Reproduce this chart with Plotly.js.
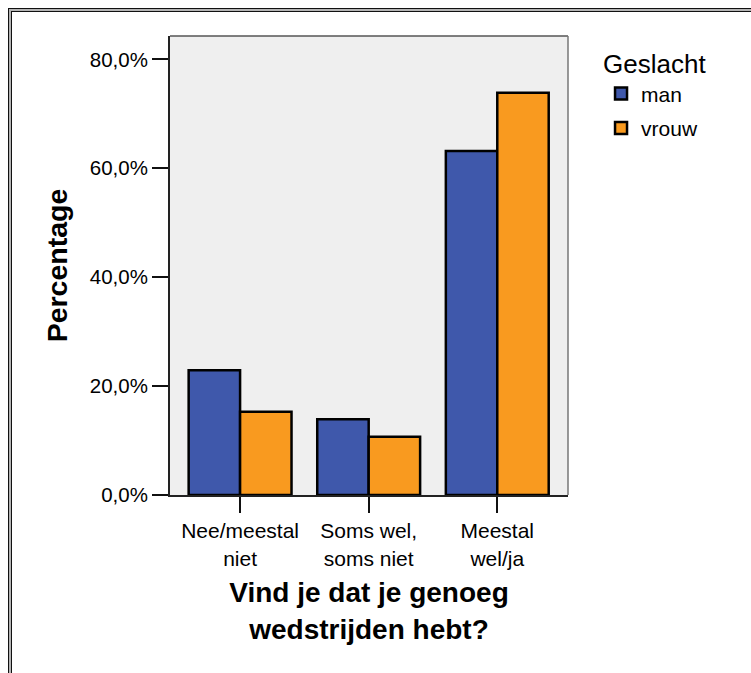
<!DOCTYPE html>
<html>
<head>
<meta charset="utf-8">
<script src="https://cdn.plot.ly/plotly-3.0.1.min.js"></script>
<style>
  html, body { margin: 0; padding: 0; background: #fff; }
  #wrap { position: relative; width: 751px; height: 673px; overflow: hidden; }
  #chart { position: absolute; left: 0; top: 0; width: 751px; height: 673px; }
  #f1 { position: absolute; left: 8px; top: 8px; width: 760px; height: 680px; border-left: 1px solid #111; border-top: 1px solid #111; pointer-events: none; }
  #f2 { position: absolute; left: 9px; top: 9px; width: 760px; height: 680px; border-left: 2px solid #b4b4b4; border-top: 2px solid #b4b4b4; pointer-events: none; }
  #f3 { position: absolute; left: 11px; top: 11px; width: 760px; height: 680px; border-left: 1px solid #111; border-top: 1px solid #111; pointer-events: none; }
</style>
</head>
<body>
<div id="wrap">
  <div id="chart"></div>
  <div id="f1"></div><div id="f2"></div><div id="f3"></div>
</div>
<script>
const categories = ["Nee/meestal<br>niet", "Soms wel,<br>soms niet", "Meestal<br>wel/ja"];
const manValues = [22.9, 13.9, 63.2];
const vrouwValues = [15.3, 10.7, 73.9];
const seriesNames = ["man", "vrouw"];
const yTicks = [0, 20, 40, 60, 80];
const yTickLabels = ["0,0%", "20,0%", "40,0%", "60,0%", "80,0%"];

const colors = ["#3f58ab", "#f99a1f"];

const traces = [manValues, vrouwValues].map((vals, i) => ({
  type: "bar",
  name: seriesNames[i],
  legendgroup: seriesNames[i],
  x: categories,
  y: vals,
  marker: { color: colors[i], line: { color: "#000", width: 2.5 } },
  hoverinfo: "skip"
}));

const layout = {
  width: 751, height: 673,
  margin: { l: 170, r: 183, t: 36, b: 178 },
  paper_bgcolor: "#ffffff",
  plot_bgcolor: "#efefef",
  separators: ",.",
  font: { family: "Liberation Sans, Arial, sans-serif", color: "#000" },
  barmode: "group",
  bargap: 0.2,
  bargroupgap: 0,
  showlegend: true,
  legend: {
    x: 1.083, xanchor: "left", y: 0.992, yanchor: "top",
    title: { text: "Geslacht", font: { size: 26 } },
    font: { size: 21 },
    traceorder: "grouped", tracegroupgap: 4,
    bgcolor: "rgba(0,0,0,0)"
  },
  xaxis: {
    type: "category",
    range: [-0.545, 2.55],
    showline: true, linecolor: "#222", linewidth: 2,
    ticks: "outside", ticklen: 16, tickwidth: 2, tickcolor: "#111",
    tickfont: { size: 21 },
    showgrid: false, zeroline: false, fixedrange: true,
    title: { text: "<b>Vind je dat je genoeg<br>wedstrijden hebt?</b>", font: { size: 28 }, standoff: 14 }
  },
  yaxis: {
    range: [0, 84.3],
    tickmode: "array",
    tickvals: yTicks,
    ticktext: yTickLabels,
    showline: true, linecolor: "#222", linewidth: 2,
    ticks: "outside", ticklen: 16, tickwidth: 2, tickcolor: "#111",
    tickfont: { size: 20.5 },
    showgrid: false, zeroline: false, fixedrange: true,
    title: { text: "<b>Percentage</b>", font: { size: 28.5 }, standoff: 14 }
  },
  shapes: [
    { type: "line", xref: "paper", yref: "paper", x0: 0, x1: 1, y0: 1, y1: 1, line: { color: "#555", width: 1.5 }, layer: "above" },
    { type: "line", xref: "paper", yref: "paper", x0: 1, x1: 1, y0: 0, y1: 1, line: { color: "#777", width: 1.5 }, layer: "above" }
  ]
};

Plotly.newPlot("chart", traces, layout, { displayModeBar: false, staticPlot: true });
</script>
</body>
</html>
